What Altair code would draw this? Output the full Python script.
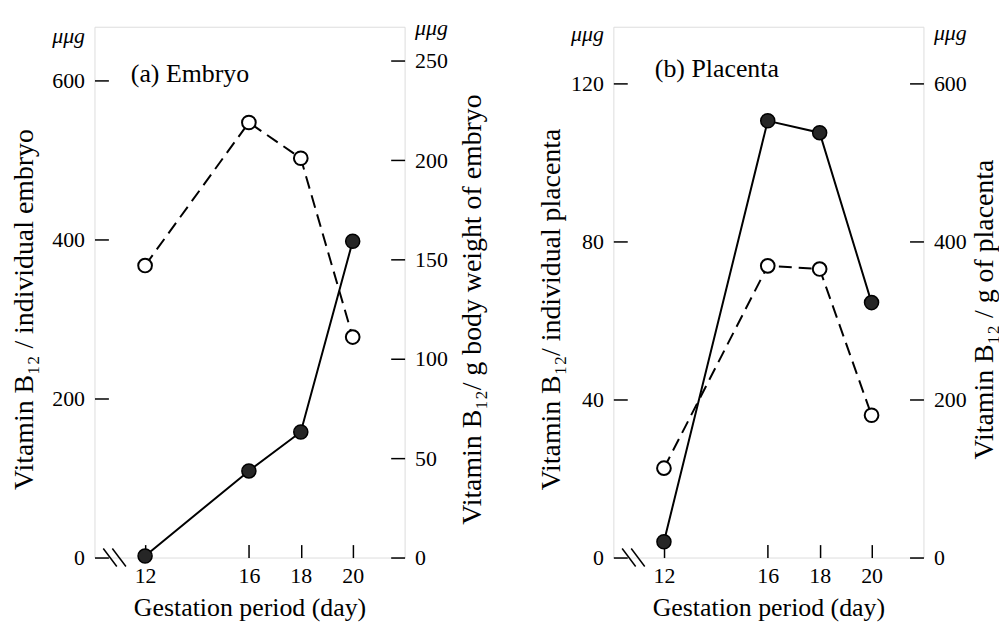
import altair as alt
import pandas as pd

FONT = "Liberation Serif"

# ---- data ----
days = [12, 16, 18, 20]
embryo_per_individual = [2, 109, 158, 398]        # closed circles, left axis
embryo_per_gram = [147, 219, 201, 111]            # open circles, right axis
placenta_per_individual = [4, 110.5, 107.5, 64.5] # closed circles, left axis
placenta_per_gram = [113, 369, 365, 180]          # open circles, right axis

day_ticks = [12, 16, 18, 20]
embryo_left_ticks = [0, 200, 400, 600]
embryo_right_ticks = [0, 50, 100, 150, 200, 250]
placenta_left_ticks = [0, 40, 80, 120]
placenta_right_ticks = [0, 200, 400, 600]

panel_labels = ["(a)  Embryo", "(b)  Placenta"]
break_days = [10.65, 11.0]

TITLE_SIZE = 26
YTITLE_SIZE = 28
LABEL_SIZE = 22
H = 534


def x_enc():
    return alt.X(
        "day:Q",
        scale=alt.Scale(domain=[10.05, 22], nice=False, zero=False),
        axis=alt.Axis(
            values=day_ticks, format="d", tickSize=13, offset=-13, domain=False,
            grid=False, tickColor="black", tickWidth=1.5, labelFont=FONT,
            labelFontSize=LABEL_SIZE, labelColor="black", labelPadding=8,
            title="Gestation period (day)", titleFont=FONT, titleFontSize=TITLE_SIZE,
            titleFontWeight="normal", titleColor="black", titlePadding=8,
        ),
    )


def y_axis(orient, ticks, unit_at, title, title_pad):
    vals = ticks + [unit_at]
    thr = (ticks[-1] + unit_at) / 2
    return alt.Axis(
        orient=orient, values=vals,
        labelExpr=f"datum.value > {thr} ? 'μμg' : datum.label",
        tickOpacity={"condition": {"test": f"datum.value > {thr}", "value": 0}, "value": 1},
        labelFontStyle={"condition": {"test": f"datum.value > {thr}", "value": "italic"}, "value": "normal"},
        tickSize=14, offset=-14, domain=False, grid=False, tickColor="black",
        tickWidth=1.5, labelFont=FONT, labelFontSize=LABEL_SIZE, labelColor="black",
        labelPadding=10, labelOverlap=False, labelBound=False,
        title=title, titleFont=FONT, titleFontSize=YTITLE_SIZE, titleFontWeight="normal",
        titleColor="black", titlePadding=title_pad, titleAngle=270, titleY=284,
        titleBaseline="bottom" if orient == "left" else "top",
    )


def panel(label, label_day, label_val, ind, perg, ldom, rdom, lticks, rticks,
          lunit, runit, ltitle, rtitle, lpad, rpad):
    df = pd.DataFrame({"day": days, "ind": ind, "perg": perg})
    ly = alt.Y("ind:Q", scale=alt.Scale(domain=ldom, nice=False),
               axis=y_axis("left", lticks, lunit, ltitle, lpad))
    ry = alt.Y("perg:Q", scale=alt.Scale(domain=rdom, nice=False),
               axis=y_axis("right", rticks, runit, rtitle, rpad))
    base = alt.Chart(df)
    line_c = base.mark_line(color="black", strokeWidth=2).encode(x=x_enc(), y=ly)
    pts_c = base.mark_point(shape="circle", filled=True, fill="#262626", stroke="black",
                            strokeWidth=1.5, size=200, opacity=1).encode(x=x_enc(), y=ly)
    brk = alt.Chart(pd.DataFrame({"day": break_days, "ind": [0, 0]})).mark_point(
        shape="M-0.75,-1L0.75,1", filled=False, stroke="black", strokeWidth=1.5,
        size=330, opacity=1).encode(x=x_enc(), y=ly)
    txt = alt.Chart(pd.DataFrame({"day": [label_day], "ind": [label_val], "t": [label]})).mark_text(
        align="left", baseline="middle", font=FONT, fontSize=TITLE_SIZE, color="black"
    ).encode(x=x_enc(), y=ly, text="t:N")
    line_o = base.mark_line(color="black", strokeWidth=2, strokeDash=[13, 7]).encode(x=x_enc(), y=ry)
    pts_o = base.mark_point(shape="circle", filled=True, fill="white", stroke="black",
                            strokeWidth=2, size=190, opacity=1).encode(x=x_enc(), y=ry)
    left = alt.layer(line_c, brk, pts_c, txt)
    right = alt.layer(line_o, pts_o)
    return alt.layer(left, right).resolve_scale(y="independent").properties(width=312, height=H)


chart_a = panel(panel_labels[0], 11.45, 609, embryo_per_individual, embryo_per_gram,
                [0, 668], [0, 267.2], embryo_left_ticks, embryo_right_ticks, 657, 267,
                "Vitamin B₁₂ / individual embryo", "Vitamin B₁₂/ g body weight of embryo", 13, 11)
chart_b = panel(panel_labels[1], 11.65, 123.5, placenta_per_individual, placenta_per_gram,
                [0, 134.3], [0, 671.5], placenta_left_ticks, placenta_right_ticks, 132.5, 664,
                "Vitamin B₁₂/ individual placenta", "Vitamin B₁₂ / g of placenta", 5, 4)

chart = alt.hconcat(chart_a, chart_b, spacing=50).properties(
    padding={"left": 2, "top": 5, "right": 0, "bottom": 0}
).configure_view(stroke="black", strokeWidth=2).configure(background="white")

chart.save("out.html", embed_options={"renderer": "svg", "actions": False})
